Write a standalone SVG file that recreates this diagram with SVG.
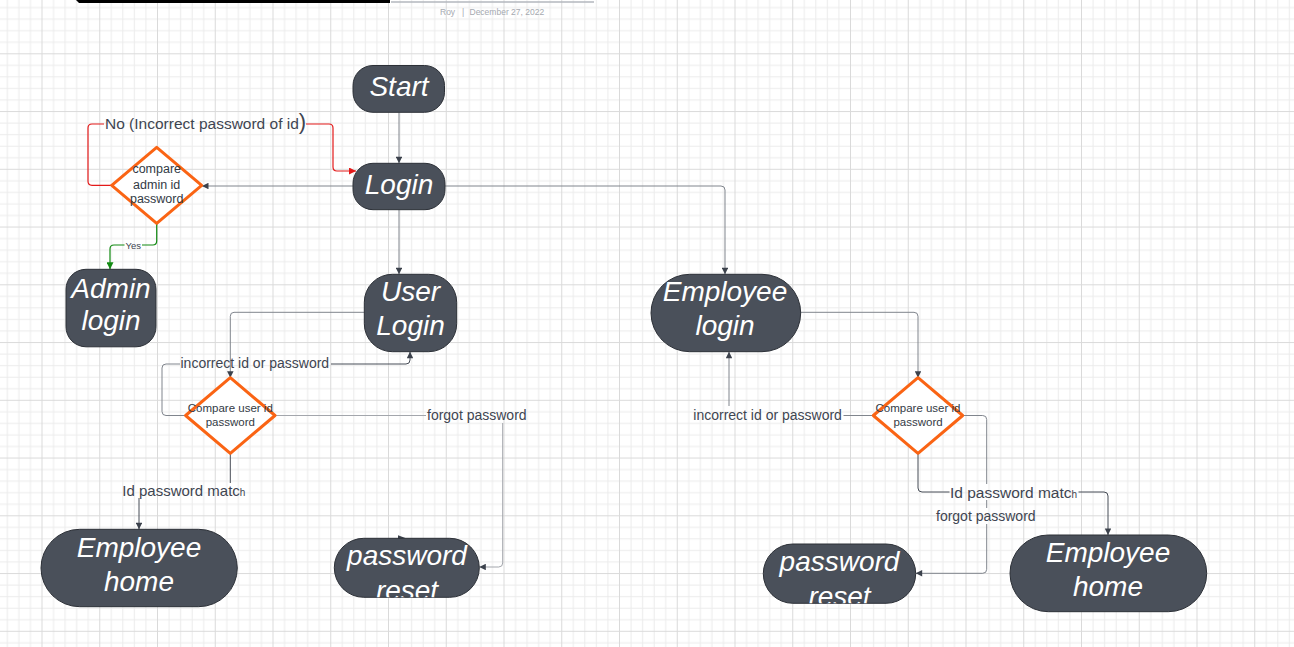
<svg xmlns="http://www.w3.org/2000/svg" width="1294" height="647" viewBox="0 0 1294 647">
<defs>
  <pattern id="grid" patternUnits="userSpaceOnUse" x="41.5" y="53.3" width="57.75" height="57.75">
    <rect x="11.55" y="0" width="1" height="57.75" fill="#ebebeb"/>
    <rect x="23.1" y="0" width="1" height="57.75" fill="#ebebeb"/>
    <rect x="34.65" y="0" width="1" height="57.75" fill="#ebebeb"/>
    <rect x="46.2" y="0" width="1" height="57.75" fill="#ebebeb"/>
    <rect x="0" y="11.55" width="57.75" height="1" fill="#ebebeb"/>
    <rect x="0" y="23.1" width="57.75" height="1" fill="#ebebeb"/>
    <rect x="0" y="34.65" width="57.75" height="1" fill="#ebebeb"/>
    <rect x="0" y="46.2" width="57.75" height="1" fill="#ebebeb"/>
    <rect x="0" y="0" width="1" height="57.75" fill="#dadada"/>
    <rect x="0" y="0" width="57.75" height="1" fill="#dadada"/>
  </pattern>
  <marker id="ah" viewBox="0 0 10 10" refX="10" refY="5" markerWidth="8" markerHeight="6.5" markerUnits="userSpaceOnUse" orient="auto">
    <path d="M0,0 L10,5 L0,10 z" fill="#3c424c"/>
  </marker>
  <marker id="ahr" viewBox="0 0 10 10" refX="10" refY="5" markerWidth="10" markerHeight="7" markerUnits="userSpaceOnUse" orient="auto">
    <path d="M0,0 L10,5 L0,10 z" fill="#e31a1a"/>
  </marker>
  <marker id="ahg" viewBox="0 0 10 10" refX="10" refY="5" markerWidth="9" markerHeight="7" markerUnits="userSpaceOnUse" orient="auto">
    <path d="M0,0 L10,5 L0,10 z" fill="#138a13"/>
  </marker>
  <clipPath id="clipPR1"><rect x="334.3" y="538.3" width="145" height="59" rx="29.5"/></clipPath>
  <clipPath id="clipPR2"><rect x="763.3" y="544" width="152.4" height="59.3" rx="29.6"/></clipPath>
  <style>
    .node { fill: #4a505a; stroke: #2c3037; stroke-width: 1; }
    .nt { font-family: "Liberation Sans", Arial, sans-serif; font-style: italic; font-size: 28px; fill: #ffffff; text-anchor: middle; }
    .dia { fill: #ffffff; stroke: #fa6414; stroke-width: 3; stroke-linejoin: round; }
    .dt { font-family: "Liberation Sans", Arial, sans-serif; font-size: 11.5px; fill: #333a45; text-anchor: middle; }
    .dta { font-size: 12.5px; }
    .c { fill: none; stroke: #80858d; stroke-width: 1; }
    .cd { fill: none; stroke: #464c56; stroke-width: 1; }
    .cl { fill: none; stroke: #a3a6ac; stroke-width: 1; }
    .lbl { font-family: "Liberation Sans", Arial, sans-serif; font-size: 14px; fill: #3e4551; }
    .l15 { font-size: 15px; }
    .l155 { font-size: 15.5px; }
    .lno { font-size: 15.5px; }
    .lyes { font-size: 9.5px; text-anchor: middle; }
  </style>
</defs>

<rect x="0" y="0" width="1294" height="647" fill="#ffffff"/>
<rect x="0" y="0" width="1294" height="647" fill="url(#grid)"/>

<g id="header">
  <polygon points="76,0 390,0 390,3 79,3" fill="#000000"/>
  <line x1="391" y1="2" x2="594" y2="2" stroke="#b3b7be" stroke-width="1.5"/>
  <text x="440" y="15" font-family="Liberation Sans, Arial, sans-serif" font-size="8.5" fill="#a5a9b0">Roy</text>
  <text x="462" y="15" font-family="Liberation Sans, Arial, sans-serif" font-size="8.5" fill="#a5a9b0">|</text>
  <text x="469.5" y="15" font-family="Liberation Sans, Arial, sans-serif" font-size="8.5" fill="#a5a9b0">December 27, 2022</text>
</g>

<g id="connectors">
  <path class="c" d="M399,112.3 V163.3" marker-end="url(#ah)"/>
  <path class="c" d="M353,186 H202" marker-end="url(#ah)"/>
  <path fill="none" stroke="#e31a1a" stroke-width="1.2" d="M111.7,185.3 H92 Q88,185.3 88,181.3 V128 Q88,124 92,124 H104"/>
  <path fill="none" stroke="#e31a1a" stroke-width="1.2" d="M306,124 H329 Q333,124 333,128 V167 Q333,171 337,171 H356" marker-end="url(#ahr)"/>
  <text class="lbl lno" x="105" y="129">No (Incorrect password of id<tspan font-size="22">)</tspan></text>
  <path fill="none" stroke="#138a13" stroke-width="1.2" d="M156.7,223.3 V241 Q156.7,245 152.7,245 H142"/>
  <path fill="none" stroke="#138a13" stroke-width="1.2" d="M124.5,245 H114 Q110,245 110,249 V269.3" marker-end="url(#ahg)"/>
  <text class="lbl lyes" x="133.3" y="248.5">Yes</text>
  <path class="c" d="M399,209.7 V274.3" marker-end="url(#ah)"/>
  <path class="c" d="M445,186 H721 Q725,186 725,190 V274.3" marker-end="url(#ah)"/>
  <path class="c" d="M364.3,312.3 H234 Q230.3,312.3 230.3,316.3 V377.7" marker-end="url(#ah)"/>
  <path class="c" d="M185.6,415.5 H166 Q162,415.5 162,411.5 V368 Q162,364 166,364 H180"/>
  <path class="cd" d="M331,364 H406 Q410,364 410,360 V351.7" marker-end="url(#ah)"/>
  <text class="lbl" x="180.5" y="368">incorrect id or password</text>
  <path class="cl" d="M275,415.5 H426"/>
  <path class="cl" d="M502.7,423 V563 Q502.7,567 498.7,567 H479.3" marker-end="url(#ah)"/>
  <text class="lbl" x="427" y="419.5">forgot password</text>
  <path class="cd" d="M230.3,453.3 V483"/>
  <path class="cd" d="M139,498 V529.3" marker-end="url(#ah)"/>
  <text class="lbl l15" x="122.3" y="495.5">Id password matc<tspan font-size="10">h</tspan></text>
  <polygon points="398,535.3 406,538.3 398,539.3" fill="#3c424c"/>
  <path class="c" d="M800.7,312.3 H914 Q918,312.3 918,316.3 V377.7" marker-end="url(#ah)"/>
  <path class="c" d="M873.3,415.5 H843.5"/>
  <path class="c" d="M729,406 V351.7" marker-end="url(#ah)"/>
  <text class="lbl" x="693.3" y="420">incorrect id or password</text>
  <path class="c" d="M962.7,415.5 H982.7 Q986.7,415.5 986.7,419.5 V484"/>
  <path class="c" d="M986.7,500 V508"/>
  <path class="c" d="M986.7,524 V569.3 Q986.7,573.3 982.7,573.3 H915.7" marker-end="url(#ah)"/>
  <text class="lbl" x="936" y="521">forgot password</text>
  <path class="cd" d="M918,453.3 V488 Q918,492 922,492 H949.5"/>
  <path class="cd" d="M1078.5,492 H1104 Q1108,492 1108,496 V535" marker-end="url(#ah)"/>
  <text class="lbl l155" x="950" y="497.5">Id password matc<tspan font-size="10">h</tspan></text>
</g>

<g id="start">
  <rect class="node" x="353" y="65.5" width="91.5" height="46.8" rx="20"/>
  <text class="nt" x="399" y="95.5">Start</text>
</g>
<g id="login">
  <rect class="node" x="353" y="163.3" width="92" height="46.4" rx="20"/>
  <text class="nt" x="399" y="193.5">Login</text>
</g>
<g id="compare-admin">
  <polygon class="dia" points="156.7,147.3 201.7,185.3 156.7,223.3 111.7,185.3"/>
  <text class="dt dta" x="156.7" y="172.5">compare</text>
  <text class="dt dta" x="156.7" y="188.5">admin id</text>
  <text class="dt dta" x="156.7" y="203">password</text>
</g>
<g id="admin-login">
  <rect class="node" x="66" y="269.3" width="90" height="77.5" rx="20"/>
  <text class="nt" x="111" y="297.5">Admin</text>
  <text class="nt" x="111" y="330">login</text>
</g>
<g id="user-login">
  <rect class="node" x="364.3" y="274.3" width="92.4" height="77.4" rx="28"/>
  <text class="nt" x="410.5" y="301">User</text>
  <text class="nt" x="410.5" y="334.5">Login</text>
</g>
<g id="compare-user">
  <polygon class="dia" points="230.3,377.7 275,415.5 230.3,453.3 185.6,415.5"/>
  <text class="dt" x="230.3" y="411.5">Compare user id</text>
  <text class="dt" x="230.3" y="425.8">password</text>
</g>
<g id="employee-home-1">
  <rect class="node" x="41" y="529.3" width="196.3" height="77.4" rx="38.7"/>
  <text class="nt" x="139" y="556.5">Employee</text>
  <text class="nt" x="139" y="590.5">home</text>
</g>
<g id="password-reset-1">
  <rect class="node" x="334.3" y="538.3" width="145" height="59" rx="29.5"/>
  <g clip-path="url(#clipPR1)">
    <text class="nt" x="407" y="565">password</text>
    <text class="nt" x="407" y="600">reset</text>
  </g>
</g>
<g id="employee-login">
  <rect class="node" x="651" y="274.3" width="149.7" height="77.4" rx="38.7"/>
  <text class="nt" x="725" y="300.5">Employee</text>
  <text class="nt" x="725" y="334.5">login</text>
</g>
<g id="compare-employee">
  <polygon class="dia" points="918,377.7 962.7,415.5 918,453.3 873.3,415.5"/>
  <text class="dt" x="918" y="411.5">Compare user id</text>
  <text class="dt" x="918" y="425.8">password</text>
</g>
<g id="password-reset-2">
  <rect class="node" x="763.3" y="544" width="152.4" height="59.3" rx="29.6"/>
  <g clip-path="url(#clipPR2)">
    <text class="nt" x="839.5" y="571">password</text>
    <text class="nt" x="839.5" y="606">reset</text>
  </g>
</g>
<g id="employee-home-2">
  <rect class="node" x="1010" y="535" width="196.7" height="76.7" rx="38.3"/>
  <text class="nt" x="1108" y="561.5">Employee</text>
  <text class="nt" x="1108" y="596">home</text>
</g>
</svg>
